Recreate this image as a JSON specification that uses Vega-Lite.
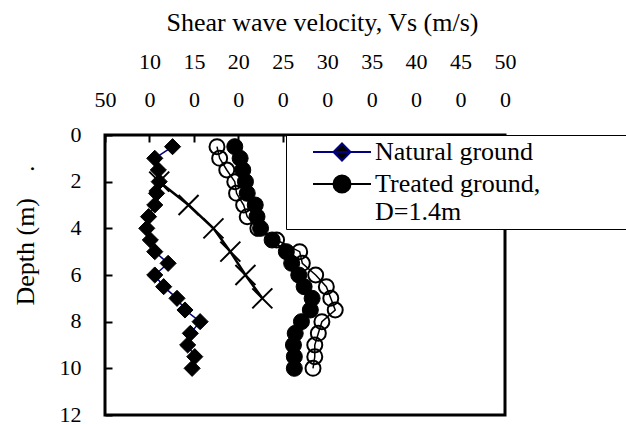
{
  "$schema": "https://vega.github.io/schema/vega-lite/v6.json",
  "width": 400,
  "height": 280,
  "autosize": {"type": "none"},
  "padding": {"left": 105, "top": 135, "right": 121, "bottom": 10},
  "background": "white",
  "config": {
    "view": {"stroke": "black", "strokeWidth": 3},
    "font": "Liberation Serif",
    "axis": {
      "domain": false,
      "grid": false,
      "labelFont": "Liberation Serif",
      "titleFont": "Liberation Serif",
      "labelColor": "black",
      "titleColor": "black",
      "tickColor": "black",
      "labelFontSize": 22,
      "titleFontSize": 26,
      "titleFontWeight": "normal",
      "tickWidth": 2,
      "tickSize": -7
    },
    "legend": {
      "labelFont": "Liberation Serif",
      "labelFontSize": 26,
      "labelColor": "black"
    },
    "style": {"guide-label": {"lineHeight": 28}}
  },
  "datasets": {
    "vs": [
      {"series": "Open", "depth": 0.5, "vs": 176},
      {"series": "Open", "depth": 1, "vs": 179},
      {"series": "Open", "depth": 1.5, "vs": 187},
      {"series": "Open", "depth": 2, "vs": 196},
      {"series": "Open", "depth": 2.5, "vs": 198},
      {"series": "Open", "depth": 3, "vs": 206},
      {"series": "Open", "depth": 3.5, "vs": 210},
      {"series": "Open", "depth": 4, "vs": 222},
      {"series": "Open", "depth": 4.5, "vs": 243},
      {"series": "Open", "depth": 5, "vs": 269},
      {"series": "Open", "depth": 5.5, "vs": 272},
      {"series": "Open", "depth": 6, "vs": 287},
      {"series": "Open", "depth": 6.5, "vs": 299},
      {"series": "Open", "depth": 7, "vs": 304},
      {"series": "Open", "depth": 7.5, "vs": 309},
      {"series": "Open", "depth": 8, "vs": 294},
      {"series": "Open", "depth": 8.5, "vs": 290},
      {"series": "Open", "depth": 9, "vs": 286},
      {"series": "Open", "depth": 9.5, "vs": 286},
      {"series": "Open", "depth": 10, "vs": 284},
      {"series": "Cross", "depth": 2, "vs": 111},
      {"series": "Cross", "depth": 3, "vs": 144},
      {"series": "Cross", "depth": 4, "vs": 172},
      {"series": "Cross", "depth": 5, "vs": 191},
      {"series": "Cross", "depth": 6, "vs": 208},
      {"series": "Cross", "depth": 7, "vs": 227},
      {"series": "Natural ground", "depth": 0.5, "vs": 126},
      {"series": "Natural ground", "depth": 1, "vs": 106},
      {"series": "Natural ground", "depth": 1.5, "vs": 110},
      {"series": "Natural ground", "depth": 2, "vs": 111},
      {"series": "Natural ground", "depth": 2.5, "vs": 108},
      {"series": "Natural ground", "depth": 3, "vs": 106},
      {"series": "Natural ground", "depth": 3.5, "vs": 99},
      {"series": "Natural ground", "depth": 4, "vs": 97},
      {"series": "Natural ground", "depth": 4.5, "vs": 101},
      {"series": "Natural ground", "depth": 5, "vs": 106},
      {"series": "Natural ground", "depth": 5.5, "vs": 121},
      {"series": "Natural ground", "depth": 6, "vs": 106},
      {"series": "Natural ground", "depth": 6.5, "vs": 116},
      {"series": "Natural ground", "depth": 7, "vs": 131},
      {"series": "Natural ground", "depth": 7.5, "vs": 140},
      {"series": "Natural ground", "depth": 8, "vs": 157},
      {"series": "Natural ground", "depth": 8.5, "vs": 146},
      {"series": "Natural ground", "depth": 9, "vs": 143},
      {"series": "Natural ground", "depth": 9.5, "vs": 151},
      {"series": "Natural ground", "depth": 10, "vs": 148},
      {"series": "Treated ground, D=1.4m", "depth": 0.5, "vs": 196},
      {"series": "Treated ground, D=1.4m", "depth": 1, "vs": 202},
      {"series": "Treated ground, D=1.4m", "depth": 1.5, "vs": 205},
      {"series": "Treated ground, D=1.4m", "depth": 2, "vs": 208},
      {"series": "Treated ground, D=1.4m", "depth": 2.5, "vs": 210},
      {"series": "Treated ground, D=1.4m", "depth": 3, "vs": 219},
      {"series": "Treated ground, D=1.4m", "depth": 3.5, "vs": 221},
      {"series": "Treated ground, D=1.4m", "depth": 4, "vs": 225},
      {"series": "Treated ground, D=1.4m", "depth": 4.5, "vs": 238},
      {"series": "Treated ground, D=1.4m", "depth": 5, "vs": 254},
      {"series": "Treated ground, D=1.4m", "depth": 5.5, "vs": 260},
      {"series": "Treated ground, D=1.4m", "depth": 6, "vs": 268},
      {"series": "Treated ground, D=1.4m", "depth": 6.5, "vs": 274},
      {"series": "Treated ground, D=1.4m", "depth": 7, "vs": 283},
      {"series": "Treated ground, D=1.4m", "depth": 7.5, "vs": 281},
      {"series": "Treated ground, D=1.4m", "depth": 8, "vs": 271},
      {"series": "Treated ground, D=1.4m", "depth": 8.5, "vs": 264},
      {"series": "Treated ground, D=1.4m", "depth": 9, "vs": 262},
      {"series": "Treated ground, D=1.4m", "depth": 9.5, "vs": 263},
      {"series": "Treated ground, D=1.4m", "depth": 10, "vs": 263}
    ]
  },
  "data": {"name": "vs"},
  "encoding": {
    "x": {
      "field": "vs",
      "type": "quantitative",
      "scale": {"domain": [50, 500], "nice": false, "zero": false},
      "axis": {
        "orient": "top",
        "values": [50, 100, 150, 200, 250, 300, 350, 400, 450, 500],
        "title": "Shear wave velocity, Vs (m/s)",
        "labelExpr": "datum.value == 50 ? ['', '50'] : [substring(datum.label, 0, 2), substring(datum.label, 2)]",
        "labelLineHeight": 38,
        "labelPadding": 69,
        "labelFlush": false,
        "labelOverlap": false,
        "titleX": 217,
        "titleY": -105,
        "titleAlign": "center",
        "titleAnchor": null,
        "titleBaseline": "alphabetic"
      }
    },
    "y": {
      "field": "depth",
      "type": "quantitative",
      "scale": {"domain": [0, 12], "reverse": true, "nice": false},
      "axis": {
        "orient": "left",
        "values": [0, 2, 4, 6, 8, 10, 12],
        "title": "Depth (m)\u00a0\u00a0\u00a0\u00a0.",
        "labelPadding": 31,
        "labelOverlap": false,
        "labelBaseline": "middle",
        "labelOffset": -1,
        "titleAngle": 270,
        "titleX": -72,
        "titleY": 100,
        "titleAlign": "center",
        "titleAnchor": null,
        "titleBaseline": "alphabetic"
      }
    },
    "order": {"field": "depth", "type": "quantitative"}
  },
  "layer": [
    {
      "transform": [{"filter": "datum.series == 'Open'"}],
      "mark": {"type": "line", "color": "black", "strokeWidth": 1.5}
    },
    {
      "transform": [{"filter": "datum.series == 'Open'"}],
      "mark": {"type": "point", "shape": "circle", "filled": false, "stroke": "black", "strokeWidth": 2, "size": 225, "opacity": 1}
    },
    {
      "transform": [{"filter": "datum.series == 'Cross'"}],
      "mark": {"type": "line", "color": "black", "strokeWidth": 2.5}
    },
    {
      "transform": [{"filter": "datum.series == 'Cross'"}],
      "mark": {"type": "point", "shape": "M-1,-1L1,1M-1,1L1,-1", "filled": false, "stroke": "black", "strokeWidth": 2, "size": 400, "opacity": 1}
    },
    {
      "transform": [{"filter": "datum.series == 'Natural ground'"}],
      "mark": {"type": "line", "color": "#000080", "strokeWidth": 1.5}
    },
    {
      "transform": [{"filter": "datum.series == 'Natural ground'"}],
      "mark": {"type": "point", "shape": "diamond", "filled": true, "fill": "black", "stroke": "black", "strokeWidth": 1, "size": 260, "opacity": 1}
    },
    {
      "transform": [{"filter": "datum.series == 'Treated ground, D=1.4m'"}],
      "mark": {"type": "line", "color": "black", "strokeWidth": 2}
    },
    {
      "transform": [{"filter": "datum.series == 'Treated ground, D=1.4m'"}],
      "mark": {"type": "point", "shape": "circle", "filled": true, "fill": "black", "stroke": "black", "strokeWidth": 1, "size": 256, "opacity": 1}
    },
    {
      "transform": [{"filter": "datum.series == 'Natural ground' || datum.series == 'Treated ground, D=1.4m'"}],
      "mark": {"type": "point", "filled": true, "fill": "black", "opacity": 0},
      "encoding": {
        "shape": {
          "field": "series",
          "type": "nominal",
          "scale": {
            "domain": ["Natural ground", "Treated ground, D=1.4m"],
            "range": [
              "M-2.9,0H2.9M0,-0.85L0.85,0L0,0.85L-0.85,0Z",
              "M-2.9,0H2.9M0.85,0A0.85,0.85,0,1,1,-0.85,0A0.85,0.85,0,1,1,0.85,0Z"
            ]
          },
          "legend": {
            "title": null,
            "orient": "none",
            "legendX": 181,
            "legendY": 0,
            "padding": 4,
            "symbolOffset": 39,
            "symbolSize": 400,
            "symbolStrokeWidth": 2,
            "symbolFillColor": "black",
            "symbolOpacity": 1,
            "labelOffset": 20,
            "rowPadding": 6,
            "labelLimit": 400,
            "strokeColor": "black",
            "fillColor": "white",
            "labelExpr": "datum.value == 'Natural ground' ? 'Natural ground' : ['Treated ground,\u00a0\u00a0\u00a0\u00a0\u00a0\u00a0\u00a0\u00a0\u00a0\u00a0\u00a0\u00a0\u00a0\u200b', 'D=1.4m']"
          }
        },
        "stroke": {
          "field": "series",
          "type": "nominal",
          "scale": {
            "domain": ["Natural ground", "Treated ground, D=1.4m"],
            "range": ["#000080", "black"]
          }
        }
      }
    }
  ]
}
